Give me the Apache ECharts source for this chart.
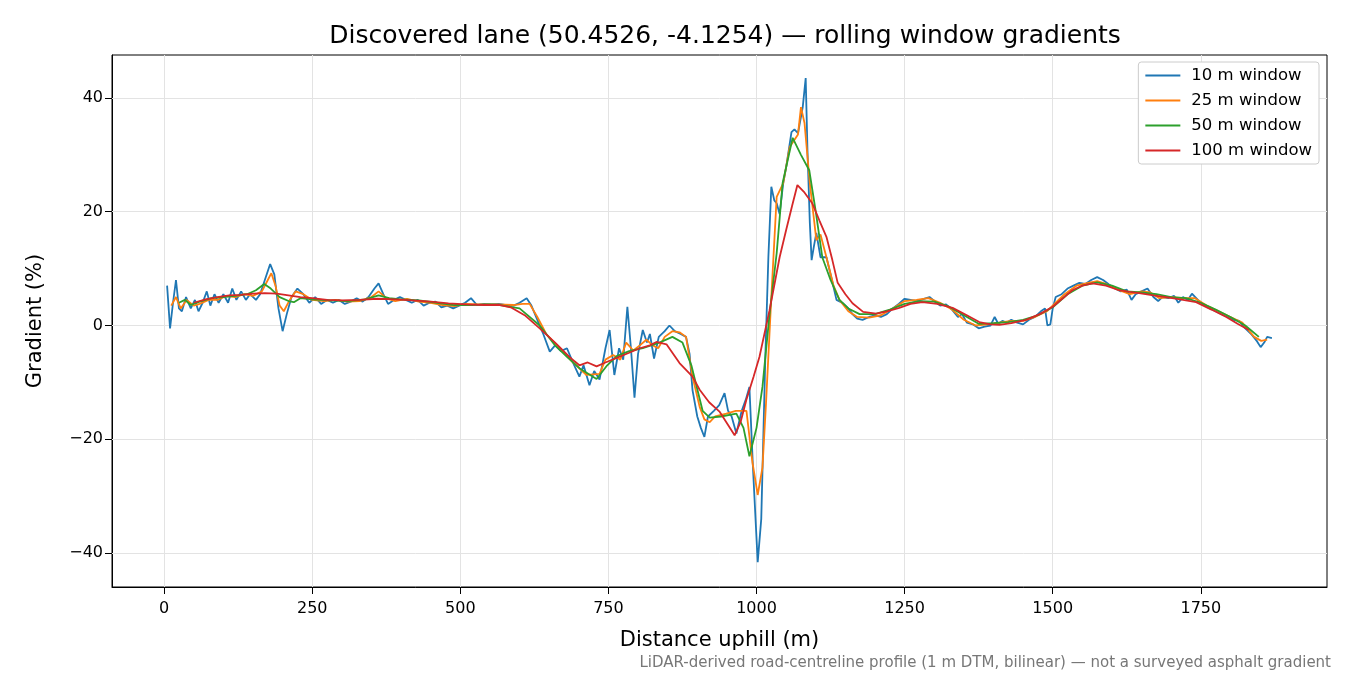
<!DOCTYPE html>
<html><head><meta charset="utf-8">
<script src="https://cdn.jsdelivr.net/npm/echarts@6/dist/echarts.min.js"></script>
<style>html,body{margin:0;padding:0;background:#fff}#c{width:1350px;height:675px}</style>
</head><body><div id="c"></div>
<script>
const seriesNames = ['10 m window','25 m window','50 m window','100 m window'];
const xTicks = [0,250,500,750,1000,1250,1500,1750];
const yTicks = [-40,-20,0,20,40];
const w10 = [[5,7],[10,-0.5],[15,4],[20,8],[25,3],[30,2.5],[37,5],[45,3],[52,4.5],[58,2.5],[65,4],[72,6],[78,3.5],[85,5.5],[92,4],[100,5.5],[108,4],[115,6.5],[122,4.5],[130,6],[138,4.5],[145,5.5],[155,4.5],[162,5.5],[170,8],[179,10.8],[186,9],[193,3],[200,-1],[207,2],[215,5],[225,6.5],[235,5.5],[245,4],[255,5],[265,3.8],[275,4.5],[285,4],[295,4.5],[305,3.8],[315,4.2],[325,4.8],[335,4.2],[345,5],[355,6.5],[362,7.4],[370,5.5],[378,3.8],[388,4.5],[398,5],[408,4.5],[418,4],[428,4.5],[438,3.5],[448,4],[458,4.2],[468,3.2],[478,3.5],[488,3],[498,3.5],[508,4],[518,4.8],[528,3.6],[540,3.8],[552,3.7],[565,3.8],[578,3.6],[590,3.5],[600,4],[612,4.8],[620,3.5],[630,1],[640,-1.5],[651,-4.6],[660,-3.5],[670,-4.5],[680,-4],[690,-6.5],[701,-9],[708,-7],[718,-10.5],[726,-8],[735,-9.5],[745,-4],[752,-0.8],[760,-8.7],[768,-4],[775,-6],[782,3.3],[788,-4],[794,-12.7],[800,-5],[808,-0.8],[815,-3],[820,-1.5],[827,-5.8],[835,-2],[845,-1],[853,0],[862,-1],[872,-1.5],[881,-2],[887,-5],[892,-11.4],[900,-16],[906,-18],[912,-19.6],[918,-16],[928,-15],[937,-14],[946,-11.9],[952,-15],[958,-16],[966,-19],[975,-15],[982,-13],[988,-10.8],[994,-25],[1002,-41.6],[1008,-34],[1015,-5],[1020,12],[1025,24.4],[1030,22],[1034,21.5],[1039,19.6],[1045,25],[1050,27.8],[1059,34],[1064,34.5],[1070,33.8],[1078,38.4],[1083,43.5],[1086,30.8],[1090,18],[1093,11.5],[1097,14],[1101,16.3],[1108,12],[1118,12],[1125,9],[1135,4.5],[1146,3.9],[1155,3],[1162,2],[1170,1.2],[1179,1],[1190,1.5],[1200,1.8],[1210,1.5],[1220,2],[1230,3],[1240,3.8],[1250,4.7],[1260,4.5],[1270,4.3],[1280,4.6],[1292,5],[1300,4.3],[1310,3.5],[1320,3.7],[1330,2.8],[1340,1.5],[1347,2],[1355,0.5],[1365,0.2],[1375,-0.5],[1385,-0.2],[1395,0],[1402,1.5],[1408,0.3],[1415,0.8],[1422,0.5],[1430,1],[1440,0.5],[1450,0.2],[1460,1],[1470,1.5],[1480,2.5],[1487,3],[1491,0],[1496,0.2],[1500,3],[1505,5],[1515,5.5],[1525,6.5],[1535,7],[1545,7.5],[1555,7.3],[1565,8],[1575,8.5],[1585,8],[1595,7.2],[1605,6.5],[1615,6],[1625,6.3],[1633,4.5],[1640,5.5],[1650,6],[1660,6.5],[1670,5],[1678,4.3],[1685,5],[1695,4.8],[1705,5.2],[1712,4],[1720,5],[1728,4.5],[1735,5.6],[1745,4.5],[1755,3.6],[1765,3],[1775,2.5],[1785,2],[1795,1.5],[1805,1],[1815,0.8],[1825,-0.5],[1835,-1.5],[1845,-2.8],[1851,-3.8],[1857,-3],[1862,-2],[1870,-2.2]];
const w25 = [[12,3.5],[20,5],[28,3],[38,4.5],[50,3.5],[60,3.8],[75,4.5],[90,4.5],[105,5.2],[120,5],[135,5.5],[150,5.2],[165,6],[175,8],[181,9.2],[188,7],[195,3.5],[202,2.5],[212,4.5],[222,6],[235,5.5],[250,4.5],[270,4.3],[290,4.5],[310,4.2],[330,4.3],[350,5],[362,6],[375,4.8],[390,4.3],[410,4.7],[430,4.2],[450,4],[470,3.6],[490,3.4],[510,3.8],[530,3.7],[560,3.7],[590,3.6],[605,3.8],[617,3.8],[630,1.5],[645,-1.5],[668,-4],[690,-6.5],[713,-8.7],[735,-8.5],[745,-6],[758,-5.2],[770,-6],[780,-3],[792,-4.4],[803,-3.5],[814,-2.5],[825,-3.5],[834,-4],[845,-2],[858,-1],[870,-1.2],[881,-2],[892,-9],[904,-14.3],[912,-16.5],[921,-17],[930,-16],[949,-15.5],[965,-15],[983,-15],[993,-24],[1002,-29.8],[1010,-25],[1016,-13.7],[1025,5],[1034,22.6],[1045,25],[1056,31.4],[1070,33.6],[1075,38.4],[1081,35.6],[1090,25],[1101,15],[1108,16],[1118,12],[1130,7],[1140,4.5],[1155,2.5],[1170,1.5],[1190,1.4],[1210,1.8],[1230,3],[1250,4.3],[1270,4.5],[1290,4.8],[1310,4],[1330,2.8],[1350,1],[1370,0],[1390,0.2],[1410,0.5],[1430,0.8],[1450,0.8],[1470,1.5],[1490,2.5],[1505,4],[1520,5.5],[1540,7],[1560,7.5],[1575,7.8],[1590,7.3],[1610,6.3],[1630,5.5],[1650,6],[1665,5.8],[1680,4.8],[1700,5],[1720,4.8],[1740,4.8],[1760,3.5],[1780,2.5],[1800,1.5],[1820,0.5],[1840,-2],[1852,-2.7],[1862,-2.5]];
const w50 = [[25,4],[35,4.5],[45,3.6],[60,4.2],[80,4.8],[100,5],[120,5.2],[140,5.5],[155,6.2],[169,7.3],[180,6.5],[195,5],[210,4.3],[219,4.1],[230,4.8],[250,4.6],[280,4.4],[310,4.3],[340,4.6],[362,5.3],[380,4.8],[400,4.6],[430,4.4],[460,4],[490,3.6],[520,3.6],[550,3.7],[567,3.6],[600,3],[634,0],[660,-3.5],[680,-5.5],[701,-7.5],[730,-9.4],[748,-7],[764,-5.4],[785,-4.5],[808,-4],[836,-3],[858,-2],[875,-3],[890,-7],[909,-15],[921,-16.2],[940,-16],[966,-15.5],[978,-18],[988,-23],[1000,-18],[1010,-10.8],[1022,2],[1034,12.7],[1044,25],[1061,33],[1075,30],[1089,27.3],[1100,20],[1111,12],[1125,8],[1140,4.5],[1155,3],[1174,2],[1200,2],[1225,2.8],[1250,3.8],[1275,4.3],[1300,4.2],[1325,3.3],[1350,1.8],[1375,0.3],[1400,0.4],[1425,0.6],[1450,1],[1475,1.8],[1500,3.2],[1525,5.5],[1550,7],[1575,7.6],[1600,7],[1625,6],[1650,5.8],[1675,5.5],[1700,5],[1725,4.8],[1750,4],[1775,2.8],[1800,1.5],[1825,0],[1848,-2]];
const w100 = [[50,4],[70,4.6],[90,5],[110,5.3],[130,5.4],[150,5.6],[170,5.7],[190,5.6],[210,5.3],[230,5],[250,4.8],[275,4.5],[300,4.4],[330,4.5],[360,4.7],[390,4.6],[420,4.4],[450,4.2],[480,3.9],[510,3.7],[540,3.6],[567,3.6],[585,3.2],[610,1.7],[634,-0.5],[660,-3],[685,-5.6],[701,-7],[715,-6.5],[730,-7.2],[745,-6.5],[764,-5.7],[785,-4.8],[803,-4],[820,-3.5],[831,-2.9],[848,-3.3],[870,-6.6],[892,-9],[904,-11.3],[920,-13.5],[938,-15.2],[952,-17.5],[963,-19.3],[973,-17],[983,-13],[995,-9],[1005,-5.5],[1022,2.7],[1039,12],[1050,16.8],[1060,21],[1069,24.7],[1080,23.5],[1094,21.5],[1106,18.5],[1118,15.6],[1128,11.5],[1137,7.5],[1150,5.5],[1162,3.9],[1180,2.4],[1202,2.1],[1220,2.5],[1241,3.1],[1260,3.8],[1280,4.1],[1305,3.8],[1331,3.1],[1355,1.8],[1376,0.6],[1395,0.2],[1410,0.1],[1430,0.4],[1455,1],[1478,2],[1500,3.3],[1517,4.8],[1533,6.2],[1550,7],[1567,7.4],[1590,7],[1612,6.2],[1630,5.9],[1646,5.7],[1670,5.3],[1691,5],[1715,4.6],[1742,4.1],[1768,2.8],[1793,1.5],[1812,0.3],[1831,-0.8]];
const colors = ['#1f77b4','#ff7f0e','#2ca02c','#d62728'];
const datasets = [w10,w25,w50,w100];
const F = 'DejaVu Sans';
const chart = echarts.init(document.getElementById('c'));
chart.setOption({
  animation:false,
  textStyle:{fontFamily:F},
  title:[{text:'Discovered lane (50.4526, -4.1254) — rolling window gradients',left:720,top:19,textAlign:'center',textStyle:{fontFamily:F,fontSize:25,fontWeight:'normal',color:'#000'}},
    {text:'LiDAR-derived road-centreline profile (1 m DTM, bilinear) — not a surveyed asphalt gradient',right:14,top:651,textStyle:{fontFamily:F,fontSize:15,fontWeight:'normal',color:'#777'}}],
  legend:{right:31,top:62,orient:'vertical',itemWidth:35,itemHeight:2,itemGap:8,padding:[5,7,5,7],
    borderColor:'#ccc',borderWidth:1,borderRadius:3,backgroundColor:'#fff',icon:'rect',
    textStyle:{fontFamily:F,fontSize:16.5,color:'#000',padding:[0,0,0,6]},data:seriesNames},
  grid:{left:112,right:23,top:55,bottom:88,show:true,borderColor:'#000',borderWidth:1},
  xAxis:{type:'value',min:-88,max:1963,name:'Distance uphill (m)',nameLocation:'middle',nameGap:43,
    nameTextStyle:{fontFamily:F,fontSize:21,color:'#000'},
    axisLine:{show:true,onZero:false,lineStyle:{color:'#000'}},
    axisTick:{show:true,customValues:xTicks,length:7,inside:false,lineStyle:{color:'#000'}},
    axisLabel:{customValues:xTicks,color:'#000',fontSize:16,fontFamily:F,margin:14,formatter:v=>''+v},
    splitLine:{show:false}},
  yAxis:{type:'value',min:-45.98,max:47.56,name:'Gradient (%)',nameLocation:'middle',nameGap:66,
    nameTextStyle:{fontFamily:F,fontSize:21,color:'#000'},
    axisLine:{show:true,onZero:false,lineStyle:{color:'#000'}},
    axisTick:{show:true,customValues:yTicks,length:7,lineStyle:{color:'#000'}},
    axisLabel:{customValues:yTicks,color:'#000',fontSize:16,fontFamily:F,margin:9,formatter:v=>v<0?'\u2212'+(-v):''+v},
    splitLine:{show:false}},
  series: seriesNames.map((n,i)=>({
    name:n,type:'line',data:datasets[i],showSymbol:false,symbol:'none',
    lineStyle:{width:1.8,color:colors[i]},itemStyle:{color:colors[i]},z:2+i,
    markLine: i===0 ? {silent:true,symbol:'none',label:{show:false},lineStyle:{color:'#e3e3e3',width:1,type:'solid'},z:1,
      data:[...xTicks.map(v=>({xAxis:v})),...yTicks.map(v=>({yAxis:v}))]} : undefined
  }))
});
</script></body></html>
